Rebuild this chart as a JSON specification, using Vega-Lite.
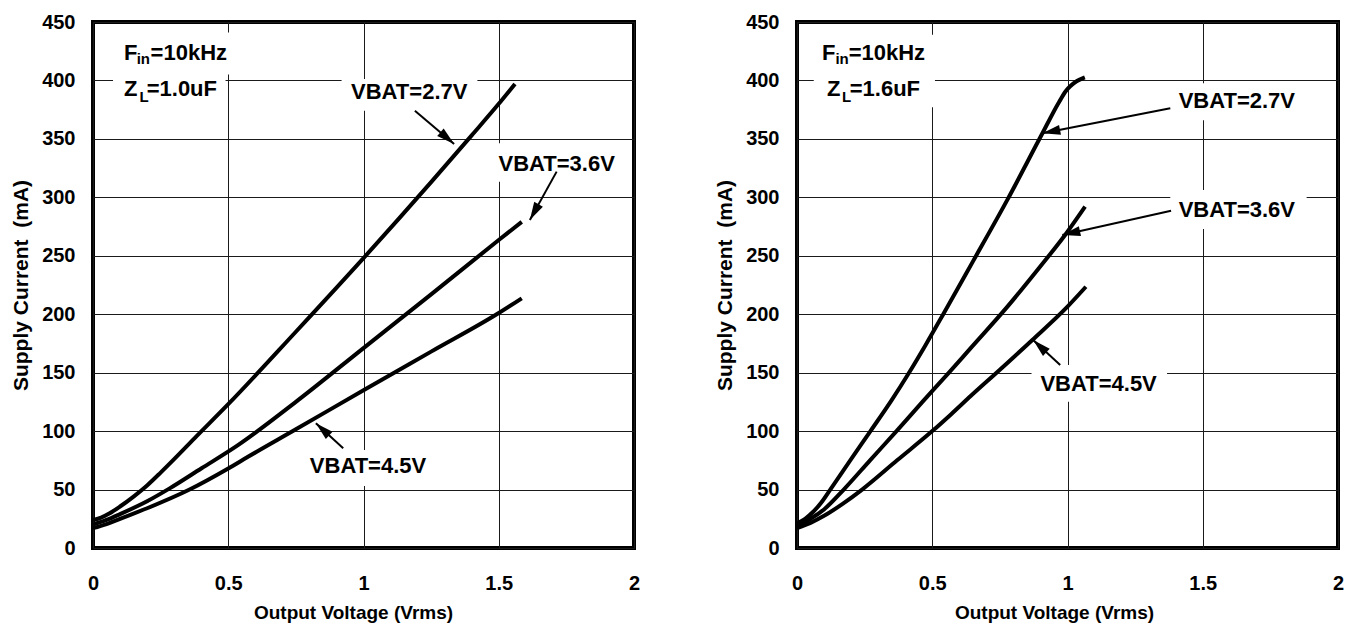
{
  "$schema": "https://vega.github.io/schema/vega-lite/v6.json",
  "padding": {"left": 8, "top": 10, "right": 5, "bottom": 5},
  "background": "white",
  "spacing": 70,
  "datasets": {
    "curves": [
      {"p":"L","s":"2.7","x":0,"y":24},{"p":"L","s":"2.7","x":0.03,"y":26},{"p":"L","s":"2.7","x":0.06,"y":29.5},{"p":"L","s":"2.7","x":0.1,"y":35.5},{"p":"L","s":"2.7","x":0.15,"y":44},{"p":"L","s":"2.7","x":0.2,"y":53.5},{"p":"L","s":"2.7","x":0.25,"y":64.5},{"p":"L","s":"2.7","x":0.3,"y":76},{"p":"L","s":"2.7","x":0.376,"y":94},{"p":"L","s":"2.7","x":0.5,"y":123},{"p":"L","s":"2.7","x":0.75,"y":185},{"p":"L","s":"2.7","x":1.0,"y":248},{"p":"L","s":"2.7","x":1.25,"y":313},{"p":"L","s":"2.7","x":1.4,"y":353},{"p":"L","s":"2.7","x":1.5,"y":380},{"p":"L","s":"2.7","x":1.56,"y":397},
      {"p":"L","s":"3.6","x":0,"y":20},{"p":"L","s":"3.6","x":0.05,"y":24},{"p":"L","s":"3.6","x":0.1,"y":29},{"p":"L","s":"3.6","x":0.2,"y":40},{"p":"L","s":"3.6","x":0.2835,"y":51},{"p":"L","s":"3.6","x":0.4,"y":68},{"p":"L","s":"3.6","x":0.536,"y":88},{"p":"L","s":"3.6","x":0.75,"y":125},{"p":"L","s":"3.6","x":1.0,"y":171},{"p":"L","s":"3.6","x":1.25,"y":217},{"p":"L","s":"3.6","x":1.5,"y":263.5},{"p":"L","s":"3.6","x":1.585,"y":279},
      {"p":"L","s":"4.5","x":0,"y":17},{"p":"L","s":"4.5","x":0.05,"y":20.5},{"p":"L","s":"4.5","x":0.1,"y":25},{"p":"L","s":"4.5","x":0.2,"y":34},{"p":"L","s":"4.5","x":0.357,"y":50},{"p":"L","s":"4.5","x":0.5,"y":68},{"p":"L","s":"4.5","x":0.573,"y":78},{"p":"L","s":"4.5","x":0.75,"y":101.5},{"p":"L","s":"4.5","x":1.0,"y":135},{"p":"L","s":"4.5","x":1.25,"y":168},{"p":"L","s":"4.5","x":1.5,"y":201},{"p":"L","s":"4.5","x":1.585,"y":213.6},
      {"p":"R","s":"2.7","x":0,"y":21},{"p":"R","s":"2.7","x":0.03,"y":25},{"p":"R","s":"2.7","x":0.06,"y":31},{"p":"R","s":"2.7","x":0.09,"y":39},{"p":"R","s":"2.7","x":0.123,"y":50},{"p":"R","s":"2.7","x":0.2,"y":76},{"p":"R","s":"2.7","x":0.2716,"y":100},{"p":"R","s":"2.7","x":0.35,"y":126.5},{"p":"R","s":"2.7","x":0.413,"y":149.5},{"p":"R","s":"2.7","x":0.475,"y":173.5},{"p":"R","s":"2.7","x":0.537,"y":198.5},{"p":"R","s":"2.7","x":0.65,"y":245},{"p":"R","s":"2.7","x":0.778,"y":298},{"p":"R","s":"2.7","x":0.901,"y":352},{"p":"R","s":"2.7","x":0.97,"y":382},{"p":"R","s":"2.7","x":0.994,"y":391},{"p":"R","s":"2.7","x":1.01,"y":395},{"p":"R","s":"2.7","x":1.035,"y":399.5},{"p":"R","s":"2.7","x":1.064,"y":402.7},
      {"p":"R","s":"3.6","x":0,"y":19},{"p":"R","s":"3.6","x":0.05,"y":25},{"p":"R","s":"3.6","x":0.1,"y":33},{"p":"R","s":"3.6","x":0.1728,"y":50},{"p":"R","s":"3.6","x":0.27,"y":75},{"p":"R","s":"3.6","x":0.3679,"y":100},{"p":"R","s":"3.6","x":0.4637,"y":125},{"p":"R","s":"3.6","x":0.5617,"y":150},{"p":"R","s":"3.6","x":0.642,"y":171},{"p":"R","s":"3.6","x":0.778,"y":206.5},{"p":"R","s":"3.6","x":0.9,"y":241},{"p":"R","s":"3.6","x":1.0,"y":270.6},{"p":"R","s":"3.6","x":1.065,"y":292},
      {"p":"R","s":"4.5","x":0,"y":17},{"p":"R","s":"4.5","x":0.05,"y":21.5},{"p":"R","s":"4.5","x":0.1,"y":27.5},{"p":"R","s":"4.5","x":0.17,"y":38},{"p":"R","s":"4.5","x":0.2407,"y":50},{"p":"R","s":"4.5","x":0.37,"y":75},{"p":"R","s":"4.5","x":0.5,"y":100},{"p":"R","s":"4.5","x":0.57,"y":114.5},{"p":"R","s":"4.5","x":0.642,"y":130},{"p":"R","s":"4.5","x":0.75,"y":152.5},{"p":"R","s":"4.5","x":0.87,"y":178},{"p":"R","s":"4.5","x":1.0,"y":206.5},{"p":"R","s":"4.5","x":1.068,"y":223.5}
    ],
    "boxes": [
      {"p":"L","x":0.074,"x2":0.514,"y":405,"y2":441},
      {"p":"L","x":0.074,"x2":0.49,"y":381,"y2":405},
      {"p":"L","x":0.919,"x2":1.421,"y":374,"y2":401.2},
      {"p":"L","x":1.49,"x2":1.95,"y":313.4,"y2":346.2},
      {"p":"L","x":0.765,"x2":1.264,"y":53,"y2":83.8},
      {"p":"R","x":0.062,"x2":0.51,"y":377,"y2":439},
      {"p":"R","x":1.39,"x2":1.86,"y":366,"y2":397.5},
      {"p":"R","x":1.38,"x2":1.884,"y":272.9,"y2":306.3},
      {"p":"R","x":0.867,"x2":1.368,"y":125.2,"y2":156.6}
    ],
    "arrows": [
      {"p":"L","id":"a","x":1.335,"y":345.6,"x2":1.19,"y2":374.1},
      {"p":"L","id":"b","x":1.615,"y":280.6,"x2":1.714,"y2":322},
      {"p":"L","id":"c","x":0.824,"y":106.7,"x2":0.925,"y2":85.3},
      {"p":"R","id":"a","x":0.907,"y":354.8,"x2":1.38,"y2":376.2},
      {"p":"R","id":"b","x":0.981,"y":267.7,"x2":1.383,"y2":288.6},
      {"p":"R","id":"c","x":0.873,"y":177.9,"x2":0.973,"y2":156.6}
    ],
    "labels": [
      {"p":"L","t":"VBAT=2.7V","x":1.169,"y":383.9},
      {"p":"L","t":"VBAT=3.6V","x":1.714,"y":322.5},
      {"p":"L","t":"VBAT=4.5V","x":1.0166,"y":63.9},
      {"p":"R","t":"VBAT=2.7V","x":1.626,"y":376.2},
      {"p":"R","t":"VBAT=3.6V","x":1.626,"y":283.4},
      {"p":"R","t":"VBAT=4.5V","x":1.115,"y":134.6}
    ],
    "maintext": [
      {"p":"L","t":"F","x":0.115,"y":417.5},
      {"p":"L","t":"=10kHz","x":0.213,"y":417.5},
      {"p":"L","t":"Z","x":0.115,"y":386.7},
      {"p":"L","t":"=1.0uF","x":0.1985,"y":386.7},
      {"p":"R","t":"F","x":0.0926,"y":417.5},
      {"p":"R","t":"=10kHz","x":0.191,"y":417.5},
      {"p":"R","t":"Z","x":0.111,"y":386.7},
      {"p":"R","t":"=1.6uF","x":0.195,"y":386.7}
    ],
    "subtext": [
      {"p":"L","t":"in","x":0.1615,"y":413.8},
      {"p":"L","t":"L","x":0.172,"y":381.8},
      {"p":"R","t":"in","x":0.142,"y":413.8},
      {"p":"R","t":"L","x":0.1667,"y":381.8}
    ]
  },
  "hconcat": [
    {
      "width": 541,
      "height": 526,
      "encoding": {
        "x": {"field": "x", "type": "quantitative", "scale": {"domain": [0, 2], "nice": false, "zero": false},
              "axis": {"title": "Output Voltage (Vrms)", "values": [0, 0.5, 1, 1.5, 2], "format": "~g", "titleX": 260}},
        "y": {"field": "y", "type": "quantitative", "scale": {"domain": [0, 450], "nice": false},
              "axis": {"title": "Supply Current \u00a0(mA)", "values": [0, 50, 100, 150, 200, 250, 300, 350, 400, 450]}}
      },
      "layer": [
        {"data": {"name": "boxes"}, "transform": [{"filter": "datum.p === 'L'"}],
         "mark": {"type": "rect", "fill": "white", "strokeWidth": 0},
         "encoding": {"x2": {"field": "x2"}, "y2": {"field": "y2"}}},
        {"data": {"name": "curves"}, "transform": [{"filter": "datum.p === 'L'"}],
         "mark": {"type": "line", "color": "black", "strokeWidth": 4, "interpolate": "monotone", "clip": true},
         "encoding": {"detail": {"field": "s"}}},
        {"data": {"name": "arrows"}, "transform": [{"filter": "datum.p === 'L'"}],
         "mark": {"type": "rule", "color": "black", "strokeWidth": 2},
         "encoding": {"x2": {"field": "x2"}, "y2": {"field": "y2"}}},
        {"data": {"name": "arrows"}, "transform": [{"filter": "datum.p === 'L' && datum.id === 'a'"}],
         "mark": {"type": "point", "shape": "M0,0L0.55,2L-0.55,2Z", "filled": true, "color": "black", "opacity": 1, "size": 324, "angle": 130.5, "strokeWidth": 0}},
        {"data": {"name": "arrows"}, "transform": [{"filter": "datum.p === 'L' && datum.id === 'b'"}],
         "mark": {"type": "point", "shape": "M0,0L0.55,2L-0.55,2Z", "filled": true, "color": "black", "opacity": 1, "size": 324, "angle": 208.9, "strokeWidth": 0}},
        {"data": {"name": "arrows"}, "transform": [{"filter": "datum.p === 'L' && datum.id === 'c'"}],
         "mark": {"type": "point", "shape": "M0,0L0.55,2L-0.55,2Z", "filled": true, "color": "black", "opacity": 1, "size": 324, "angle": 312.5, "strokeWidth": 0}},
        {"data": {"name": "labels"}, "transform": [{"filter": "datum.p === 'L'"}],
         "mark": {"type": "text", "font": "Liberation Sans", "fontSize": 22, "fontWeight": "bold", "color": "black", "align": "center", "baseline": "alphabetic"},
         "encoding": {"text": {"field": "t"}}},
        {"data": {"name": "maintext"}, "transform": [{"filter": "datum.p === 'L'"}],
         "mark": {"type": "text", "font": "Liberation Sans", "fontSize": 22, "fontWeight": "bold", "color": "black", "align": "left", "baseline": "alphabetic"},
         "encoding": {"text": {"field": "t"}}},
        {"data": {"name": "subtext"}, "transform": [{"filter": "datum.p === 'L'"}],
         "mark": {"type": "text", "font": "Liberation Sans", "fontSize": 15, "fontWeight": "bold", "color": "black", "align": "left", "baseline": "alphabetic"},
         "encoding": {"text": {"field": "t"}}}
      ]
    },
    {
      "width": 541,
      "height": 526,
      "encoding": {
        "x": {"field": "x", "type": "quantitative", "scale": {"domain": [0, 2], "nice": false, "zero": false},
              "axis": {"title": "Output Voltage (Vrms)", "values": [0, 0.5, 1, 1.5, 2], "format": "~g", "titleX": 257}},
        "y": {"field": "y", "type": "quantitative", "scale": {"domain": [0, 450], "nice": false},
              "axis": {"title": "Supply Current \u00a0(mA)", "values": [0, 50, 100, 150, 200, 250, 300, 350, 400, 450]}}
      },
      "layer": [
        {"data": {"name": "boxes"}, "transform": [{"filter": "datum.p === 'R'"}],
         "mark": {"type": "rect", "fill": "white", "strokeWidth": 0},
         "encoding": {"x2": {"field": "x2"}, "y2": {"field": "y2"}}},
        {"data": {"name": "curves"}, "transform": [{"filter": "datum.p === 'R'"}],
         "mark": {"type": "line", "color": "black", "strokeWidth": 4, "interpolate": "monotone", "clip": true},
         "encoding": {"detail": {"field": "s"}}},
        {"data": {"name": "arrows"}, "transform": [{"filter": "datum.p === 'R'"}],
         "mark": {"type": "rule", "color": "black", "strokeWidth": 2},
         "encoding": {"x2": {"field": "x2"}, "y2": {"field": "y2"}}},
        {"data": {"name": "arrows"}, "transform": [{"filter": "datum.p === 'R' && datum.id === 'a'"}],
         "mark": {"type": "point", "shape": "M0,0L0.55,2L-0.55,2Z", "filled": true, "color": "black", "opacity": 1, "size": 324, "angle": 258.9, "strokeWidth": 0}},
        {"data": {"name": "arrows"}, "transform": [{"filter": "datum.p === 'R' && datum.id === 'b'"}],
         "mark": {"type": "point", "shape": "M0,0L0.55,2L-0.55,2Z", "filled": true, "color": "black", "opacity": 1, "size": 324, "angle": 257.4, "strokeWidth": 0}},
        {"data": {"name": "arrows"}, "transform": [{"filter": "datum.p === 'R' && datum.id === 'c'"}],
         "mark": {"type": "point", "shape": "M0,0L0.55,2L-0.55,2Z", "filled": true, "color": "black", "opacity": 1, "size": 324, "angle": 312.8, "strokeWidth": 0}},
        {"data": {"name": "labels"}, "transform": [{"filter": "datum.p === 'R'"}],
         "mark": {"type": "text", "font": "Liberation Sans", "fontSize": 22, "fontWeight": "bold", "color": "black", "align": "center", "baseline": "alphabetic"},
         "encoding": {"text": {"field": "t"}}},
        {"data": {"name": "maintext"}, "transform": [{"filter": "datum.p === 'R'"}],
         "mark": {"type": "text", "font": "Liberation Sans", "fontSize": 22, "fontWeight": "bold", "color": "black", "align": "left", "baseline": "alphabetic"},
         "encoding": {"text": {"field": "t"}}},
        {"data": {"name": "subtext"}, "transform": [{"filter": "datum.p === 'R'"}],
         "mark": {"type": "text", "font": "Liberation Sans", "fontSize": 15, "fontWeight": "bold", "color": "black", "align": "left", "baseline": "alphabetic"},
         "encoding": {"text": {"field": "t"}}}
      ]
    }
  ],
  "config": {
    "font": "Liberation Sans",
    "view": {"stroke": "black", "strokeWidth": 4},
    "axis": {
      "domain": false, "ticks": false, "tickSize": 0, "grid": true,
      "gridColor": "#1a1a1a", "gridWidth": 1, "gridOpacity": 1,
      "labelFont": "Liberation Sans", "labelFontSize": 20, "labelFontWeight": "bold", "labelColor": "black",
      "labelFlush": false, "labelOverlap": false,
      "titleFont": "Liberation Sans", "titleFontWeight": "bold", "titleColor": "black"
    },
    "axisX": {"labelPadding": 25, "titleFontSize": 19, "titlePadding": 10},
    "axisY": {"labelPadding": 18, "titleFontSize": 21, "titlePadding": 10}
  }
}
